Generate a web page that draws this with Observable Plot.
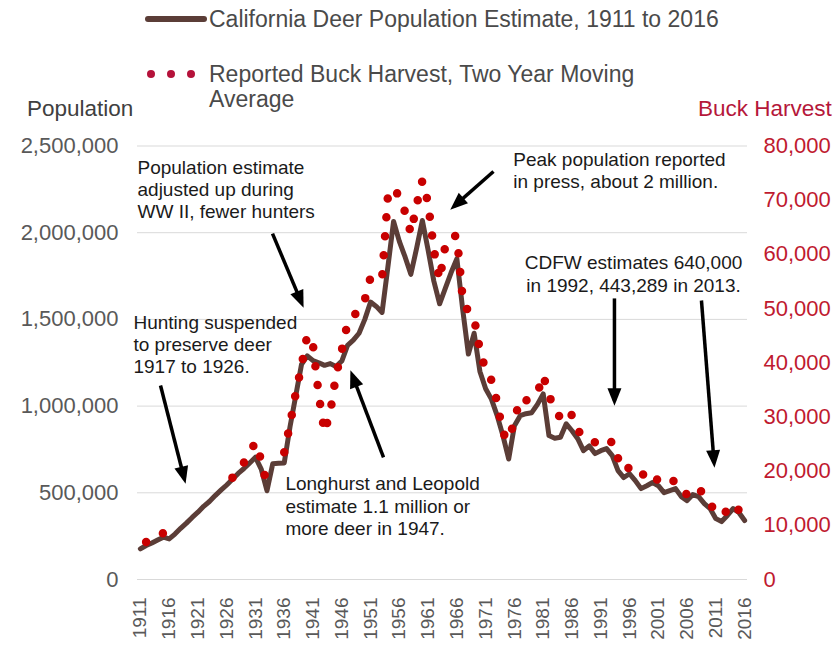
<!DOCTYPE html>
<html><head><meta charset="utf-8">
<script src="https://cdn.jsdelivr.net/npm/d3@7"></script>
<script src="https://cdn.jsdelivr.net/npm/@observablehq/plot@0.6"></script>
<style>
body{margin:0;background:#fff;font-family:"Liberation Sans",Arial,sans-serif;}
#wrap{position:relative;width:839px;height:645px;overflow:hidden;background:#fff}
#wrap svg{position:absolute;left:0;top:0}
.lbl{position:absolute;white-space:nowrap;line-height:1}
</style></head><body>
<div id="wrap"></div>
<script>
// ---- data ----
const firstYear = 1911, lastYear = 2016;
const years = d3.range(firstYear, lastYear + 1);
const population = [
  177000,196000,211000,228000,244000,234000,262000,295000,325000,358000,
  388000,422000,450000,484000,515000,545000,578000,612000,640000,672000,
  705000,637000,512000,668000,670000,672000,880000,1060000,1240000,1290000,
  1262000,1250000,1235000,1245000,1228000,1260000,1350000,1380000,1420000,1500000,
  1600000,1575000,1540000,1800000,2065000,1950000,1860000,1760000,1910000,2070000,
  1900000,1720000,1590000,1680000,1770000,1850000,1560000,1300000,1420000,1200000,
  1100000,1040000,945000,830000,695000,887000,945000,956000,962000,1010000,
  1070000,830000,815000,820000,898000,858000,812000,743000,770000,726000,
  743000,755000,714000,628000,588000,610000,570000,524000,541000,559000,
  541000,501000,513000,524000,478000,455000,490000,478000,438000,409000,
  351000,334000,369000,409000,386000,340000
];
const buckHarvest = [
  null,6900,7500,8000,8600,8100,null,null,null,null,
  null,null,null,null,null,null,18800,20100,21600,23500,
  25300,22000,17400,null,null,23500,28600,34400,39400,45100,
  43200,34000,27200,30900,37700,42300,47300,48600,49700,51600,
  55800,55300,55600,70600,72300,70600,67800,63900,69100,73600,
  69500,60800,55300,61700,63400,63400,51900,49300,48200,42300,
  38600,36800,32700,27000,25700,29400,33400,33000,33600,34400,
  37700,34000,31400,29800,31200,30300,27500,26400,26100,25300,
  25700,24900,25500,22400,20100,20700,19800,19000,20100,19000,
  18300,17600,18300,18100,16400,15700,16400,17000,15300,14000,
  12400,11800,12800,14000,12800,null
];
const popTicks = [0, 500000, 1000000, 1500000, 2000000, 2500000];
const harvestTicks = [0, 10000, 20000, 30000, 40000, 50000, 60000, 70000, 80000];
const yearTicks = [1911,1916,1921,1926,1931,1936,1941,1946,1951,1956,1961,1966,1971,1976,1981,1986,1991,1996,2001,2006,2011,2016];
const RATIO = 2500000 / 80000; // right axis max maps to left axis max

const noteText = [
  "Population estimate\nadjusted up during\nWW II, fewer hunters",
  "Peak population reported\nin press, about 2 million.",
  "CDFW estimates 640,000\nin 1992, 443,289 in 2013.",
  "Hunting suspended\nto preserve deer\n1917 to 1926.",
  "Longhurst and Leopold\nestimate 1.1 million or\nmore deer in 1947."
];
const noteYear = [1910.5, 1975.8, 1996.7, 1909.8, 1936.2];
const notePop = [2252000, 2364000, 1765000, 1361000, 427000];
const noteAnchor = ["start", "start", "middle", "start", "start"];

const arrowFromYear = [1933.96, 1972.36, 1993.38, 2008.5, 1914.5, 1953.25];
const arrowFromPop  = [1995000, 2353000, 1621000, 1609000, 1119000, 704000];
const arrowToYear   = [1939.01, 1965.53, 1993.38, 2010.69, 1918.63, 1947.82];
const arrowToPop    = [1595000, 2153000, 1032000, 675000, 581000, 1178000];

// ---- tables ----
const popRows = years.map((year, i) => ({year, pop: population[i]}));
const harvRows = years.map((year, i) => ({year, harvest: buckHarvest[i]}));
const notes = noteText.map((text, i) => ({text, x: noteYear[i], y: notePop[i], anchor: noteAnchor[i]}));
const arrows = arrowFromYear.map((x1, i) => ({x1, y1: arrowFromPop[i], x2: arrowToYear[i], y2: arrowToPop[i]}));

const FONT = '"Liberation Sans", Arial, sans-serif';
const noteOpts = {x: "x", y: "y", text: "text", lineAnchor: "middle", lineHeight: 1.16, fontSize: 19, fill: "#1a1a1a"};
const chart = Plot.plot({
  width: 839, height: 645,
  marginLeft: 137, marginRight: 92, marginTop: 145.5, marginBottom: 66,
  x: {type: "linear", domain: [1910.5, 2016.5], axis: null},
  y: {domain: [0, 2500000], axis: null},
  style: {fontFamily: FONT, background: "transparent", overflow: "visible"},
  marks: [
    Plot.gridY(popTicks, {stroke: "#d9d9d9", strokeOpacity: 1, strokeWidth: 1}),
    Plot.axisY(popTicks, {anchor: "left", tickSize: 0, tickPadding: 19, tickFormat: d3.format(","), fontSize: 22, fill: "#595959", label: null}),
    Plot.axisY(harvestTicks.map(v => v * RATIO), {anchor: "right", tickSize: 0, tickPadding: 16, tickFormat: d => d3.format(",")(Math.round(d / RATIO)), fontSize: 22, fill: "#bf1a2f", label: null}),
    Plot.axisX(yearTicks, {anchor: "bottom", tickSize: 0, tickPadding: 18, tickRotate: -90, tickFormat: d => String(d), fontSize: 19, fill: "#595959", label: null}),
    Plot.line(popRows, {x: "year", y: "pop", stroke: "#5b3d37", strokeWidth: 5, strokeLinejoin: "round", strokeLinecap: "round"}),
    Plot.line(harvRows, {x: "year", y: d => d.harvest == null ? NaN : d.harvest * RATIO, stroke: "#c80000", strokeWidth: 8.5, strokeDasharray: "0 19", strokeLinecap: "round", strokeLinejoin: "round"}),
    Plot.link(arrows, {x1: "x1", y1: "y1", x2: "x2", y2: "y2", stroke: "#000", strokeWidth: 3.5, markerEnd: "arrow"}),
    Plot.text(notes.filter(d => d.anchor === "start"), {...noteOpts, textAnchor: "start"}),
    Plot.text(notes.filter(d => d.anchor === "middle"), {...noteOpts, textAnchor: "middle"})
  ]
});
// filled arrow heads
chart.querySelectorAll("marker").forEach(m => {
  m.setAttribute("viewBox", "-8 -5 12 10");
  m.setAttribute("markerWidth", "6");
  m.setAttribute("markerHeight", "5");
  m.setAttribute("refX", "0");
  m.setAttribute("refY", "0");
  m.setAttribute("fill", "#000");
  m.setAttribute("stroke", "none");
  m.innerHTML = '<path d="M-7,-4L3,0L-7,4Z" fill="#000" stroke="none"></path>';
});
const wrap = document.getElementById("wrap");
wrap.appendChild(chart);

// ---- legend and axis titles (HTML above the plot) ----
function label(text, left, cy, size, color) {
  const d = document.createElement("div");
  d.className = "lbl";
  d.textContent = text;
  d.style.left = left + "px";
  d.style.top = (cy - size / 2) + "px";
  d.style.fontSize = size + "px";
  d.style.color = color;
  wrap.appendChild(d);
  return d;
}
const sw = document.createElement("div");
Object.assign(sw.style, {position: "absolute", left: "145px", top: "16px", width: "62px", height: "6px", background: "#5b3d37", borderRadius: "3px"});
wrap.appendChild(sw);
label("California Deer Population Estimate, 1911 to 2016", 209, 19, 23, "#4a4a4a");
[151, 171, 191].forEach(cx => {
  const dot = document.createElement("div");
  Object.assign(dot.style, {position: "absolute", left: (cx - 4) + "px", top: "70px", width: "8px", height: "8px", borderRadius: "50%", background: "#b5123a"});
  wrap.appendChild(dot);
});
label("Reported Buck Harvest, Two Year Moving", 209, 74, 23, "#4a4a4a");
label("Average", 209, 99, 23, "#4a4a4a");
label("Population", 27, 109, 22.5, "#404040");
label("Buck Harvest", 698, 109, 22.5, "#b5173a");
</script></body></html>
